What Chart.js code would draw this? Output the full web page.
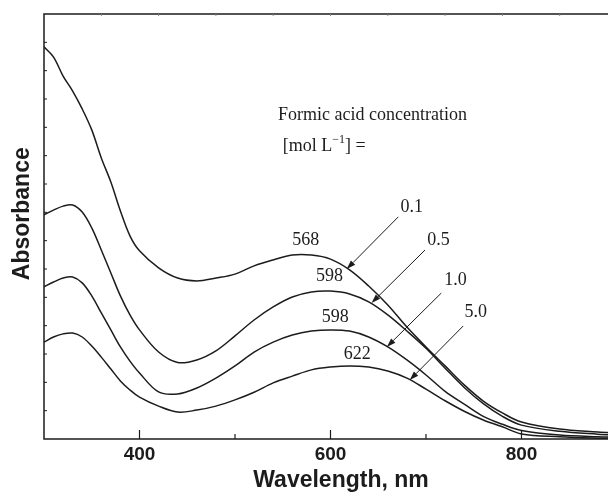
<!DOCTYPE html>
<html>
<head>
<meta charset="utf-8">
<script src="https://cdn.jsdelivr.net/npm/chart.js@4/dist/chart.umd.min.js"></script>
<style>
  html, body { margin: 0; padding: 0; background: #fff; overflow: hidden; }
  #wrap { position: relative; width: 660px; height: 492px; }
</style>
</head>
<body>
<div id="wrap"><canvas id="spectra"></canvas></div>
<script>
// wavelength grid (nm)
const wavelengths = [300,310,320,330,340,350,360,370,380,390,400,420,440,460,480,500,520,540,560,580,600,620,640,660,680,700,720,740,760,780,800,840,880,900];

// absorbance for each formic acid concentration (mol/L)
const abs01 = [1.384,1.348,1.281,1.228,1.165,1.091,0.992,0.907,0.805,0.717,0.664,0.604,0.568,0.558,0.568,0.582,0.611,0.632,0.649,0.649,0.635,0.597,0.540,0.473,0.395,0.325,0.258,0.191,0.134,0.092,0.060,0.035,0.025,0.021];
const abs05 = [0.791,0.808,0.822,0.826,0.801,0.745,0.667,0.586,0.505,0.438,0.385,0.307,0.270,0.279,0.311,0.364,0.420,0.466,0.501,0.519,0.522,0.512,0.484,0.438,0.381,0.320,0.250,0.182,0.125,0.080,0.049,0.027,0.017,0.014];
const abs10 = [0.537,0.554,0.568,0.572,0.551,0.505,0.445,0.385,0.325,0.275,0.233,0.166,0.159,0.180,0.215,0.258,0.307,0.342,0.367,0.381,0.385,0.381,0.360,0.325,0.279,0.226,0.168,0.123,0.080,0.052,0.030,0.014,0.008,0.007];
const abs50 = [0.342,0.360,0.371,0.374,0.360,0.328,0.289,0.247,0.205,0.173,0.148,0.116,0.095,0.102,0.116,0.138,0.165,0.198,0.222,0.244,0.254,0.258,0.254,0.240,0.215,0.176,0.135,0.098,0.067,0.043,0.018,0.008,0.003,0.002];

// tick labels
const xTickLabels = [400, 600, 800];
const xMinorTicks = [500, 700];

// annotations (data units)
const peakLabels = ['568', '598', '598', '622'];
const peakLabelX = [574, 599, 605, 628];
const peakLabelY = [0.702, 0.575, 0.431, 0.300];

const concLabels = ['0.1', '0.5', '1.0', '5.0'];
const concLabelX = [685, 713, 731, 752];
const concLabelY = [0.819, 0.702, 0.561, 0.448];
const arrowFromX = [671, 699, 716, 739];
const arrowFromY = [0.784, 0.667, 0.515, 0.399];
const arrowToX = [617, 643, 659, 683];
const arrowToY = [0.600, 0.480, 0.325, 0.208];

const INK = '#1c1c1c';
const SERIF = '"Liberation Serif", "Times New Roman", serif';
const SANS = '"Liberation Sans", Arial, sans-serif';

const toPoints = arr => arr.map((v, i) => ({ x: wavelengths[i], y: v }));

const series = [abs01, abs05, abs10, abs50].map((arr, i) => ({
  label: concLabels[i],
  data: toPoints(arr),
  borderColor: INK,
  borderWidth: 1.5,
  pointRadius: 0,
  fill: false,
  tension: 0.35
}));

const decor = {
  id: 'decor',
  afterDatasetsDraw(chart) {
    const { ctx, chartArea: a, scales: { x, y } } = chart;
    ctx.save();
    ctx.strokeStyle = INK;
    ctx.fillStyle = INK;
    ctx.lineWidth = 1.5;
    // frame
    ctx.beginPath();
    ctx.moveTo(a.left, a.top);
    ctx.lineTo(a.left, a.bottom);
    ctx.lineTo(a.right, a.bottom);
    ctx.lineTo(a.right, a.top);
    ctx.closePath();
    ctx.stroke();

    // x ticks (inward)
    ctx.lineWidth = 1.2;
    xTickLabels.forEach(v => {
      const px = x.getPixelForValue(v);
      ctx.beginPath(); ctx.moveTo(px, a.bottom); ctx.lineTo(px, a.bottom - 9); ctx.stroke();
    });
    xMinorTicks.forEach(v => {
      const px = x.getPixelForValue(v);
      ctx.beginPath(); ctx.moveTo(px, a.bottom); ctx.lineTo(px, a.bottom - 5); ctx.stroke();
    });
    // y ticks (inward, every 0.1)
    ctx.lineWidth = 1;
    for (let k = 1; k < 15; k++) {
      const py = y.getPixelForValue(k / 10);
      ctx.beginPath(); ctx.moveTo(a.left, py); ctx.lineTo(a.left + 3, py); ctx.stroke();
    }
    // faint top ticks
    ctx.strokeStyle = '#888';
    for (let v = 360; v < 922; v += 60) {
      const px = x.getPixelForValue(v);
      ctx.beginPath(); ctx.moveTo(px, a.top); ctx.lineTo(px, a.top + 2); ctx.stroke();
    }
    ctx.strokeStyle = INK;

    // y axis title
    ctx.save();
    ctx.font = 'bold 23px ' + SANS;
    ctx.textAlign = 'center';
    ctx.textBaseline = 'middle';
    ctx.translate(23, y.getPixelForValue(0.795));
    ctx.rotate(-Math.PI / 2);
    ctx.fillText('Absorbance', 0, 0);
    ctx.restore();

    // legend-like note
    ctx.font = '18px ' + SERIF;
    ctx.textAlign = 'left';
    ctx.textBaseline = 'middle';
    ctx.fillText('Formic acid concentration', x.getPixelForValue(545), y.getPixelForValue(1.144));
    let tx = x.getPixelForValue(550);
    const ty = y.getPixelForValue(1.034);
    ctx.fillText('[mol L', tx, ty);
    tx += ctx.measureText('[mol L').width;
    ctx.font = '12px ' + SERIF;
    ctx.fillText('\u22121', tx, ty - 6);
    tx += ctx.measureText('\u22121').width;
    ctx.font = '18px ' + SERIF;
    ctx.fillText('] =', tx, ty);

    // peak and concentration labels
    ctx.textAlign = 'center';
    peakLabels.forEach((t, i) => {
      ctx.fillText(t, x.getPixelForValue(peakLabelX[i]), y.getPixelForValue(peakLabelY[i]));
    });
    concLabels.forEach((t, i) => {
      ctx.fillText(t, x.getPixelForValue(concLabelX[i]), y.getPixelForValue(concLabelY[i]));
    });

    // arrows
    ctx.lineWidth = 1;
    arrowFromX.forEach((fx, i) => {
      const x0 = x.getPixelForValue(fx), y0 = y.getPixelForValue(arrowFromY[i]);
      const x1 = x.getPixelForValue(arrowToX[i]), y1 = y.getPixelForValue(arrowToY[i]);
      const ang = Math.atan2(y1 - y0, x1 - x0);
      const len = 9, half = 3;
      const bx = x1 - len * Math.cos(ang), by = y1 - len * Math.sin(ang);
      ctx.beginPath(); ctx.moveTo(x0, y0); ctx.lineTo(bx, by); ctx.stroke();
      ctx.beginPath();
      ctx.moveTo(x1, y1);
      ctx.lineTo(bx + half * Math.sin(ang), by - half * Math.cos(ang));
      ctx.lineTo(bx - half * Math.sin(ang), by + half * Math.cos(ang));
      ctx.closePath();
      ctx.fill();
    });
    ctx.restore();
  }
};

new Chart(document.getElementById('spectra').getContext('2d'), {
  type: 'line',
  data: { datasets: series },
  options: {
    responsive: true,
    maintainAspectRatio: false,
    animation: false,
    layout: { padding: { left: 0, top: 14, right: 22, bottom: 0 } },
    plugins: { legend: { display: false }, tooltip: { enabled: false } },
    scales: {
      x: {
        type: 'linear',
        min: 300,
        max: 922,
        grid: { display: false, drawTicks: false },
        border: { display: false },
        afterFit: s => { s.height = 53; },
        ticks: {
          stepSize: 100,
          autoSkip: false,
          maxRotation: 0,
          padding: 4,
          color: INK,
          font: { family: SANS, size: 19, weight: 'bold' },
          callback: v => xTickLabels.includes(v) ? String(v) : ''
        },
        title: {
          display: true,
          text: 'Wavelength, nm',
          color: INK,
          font: { family: SANS, size: 23, weight: 'bold', lineHeight: 1 },
          padding: { top: 0, bottom: 0 }
        }
      },
      y: {
        min: 0,
        max: 1.5,
        grid: { display: false, drawTicks: false },
        border: { display: false },
        afterFit: s => { s.width = 44; },
        ticks: { display: false }
      }
    }
  },
  plugins: [decor]
});
</script>
</body>
</html>
